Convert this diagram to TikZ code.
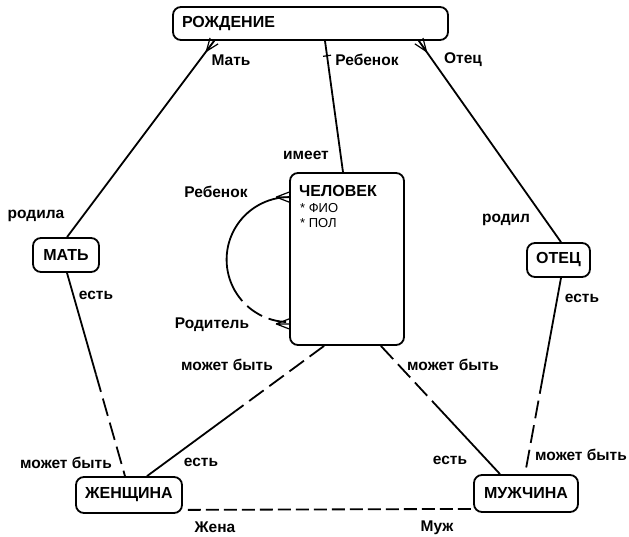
\documentclass[tikz,border=0pt]{standalone}
\usepackage{fontspec}
\setmainfont{Liberation Sans}
\usetikzlibrary{calc}
\tikzset{
  ent/.style={draw, line width=1.8pt, rounded corners=8pt, inner sep=0pt,
    font=\fontsize{16}{18}\selectfont\bfseries},
  lbl/.style={font=\fontsize{15.5}{17}\selectfont\bfseries, inner sep=0pt},
  attr/.style={font=\fontsize{13}{15}\selectfont, inner sep=0pt, anchor=west},
  rel/.style={line width=1.8pt},
  opt/.style={line width=1.8pt, dash pattern=on 18pt off 7pt},
  optshort/.style={line width=1.8pt, dash pattern=on 13pt off 5pt},
  foot/.style={line width=1.2pt},
}
% crow's foot: #1 = end point on the entity, #2 = point further along the line
\newcommand\crowfoot[2]{%
  \draw[foot] ($(#1)!13pt!(#2)$) -- ($(#1)!5pt!90:(#2)$)
              ($(#1)!13pt!(#2)$) -- (#1)
              ($(#1)!13pt!(#2)$) -- ($(#1)!5pt!-90:(#2)$);}
\begin{document}
\begin{tikzpicture}[x=1pt,y=-1pt]
\useasboundingbox (0,0) rectangle (629,536);

% entities
\node[ent, minimum width=275pt, minimum height=33pt, inner xsep=9pt,
      text width=257pt, align=left] (rozh) at (310.5,23.5) {РОЖДЕНИЕ};
\node[ent, minimum width=114pt, minimum height=172pt] (chel) at (347,259) {};
\node[attr, font=\fontsize{16}{18}\selectfont\bfseries] (chelname) at (299,191) {ЧЕЛОВЕК};
\node[attr] (chelfio) at (300,208) {*~ФИО};
\node[attr] (chelpol) at (300,223) {*~ПОЛ};
\node[ent, minimum width=66pt, minimum height=34pt] (mat) at (66,255) {МАТЬ};
\node[ent, minimum width=63pt, minimum height=34pt] (otec) at (558.5,260) {ОТЕЦ};
\node[ent, minimum width=106pt, minimum height=36pt] (zhen) at (129,495) {ЖЕНЩИНА};
\node[ent, minimum width=104pt, minimum height=37pt] (muzh) at (526,493.5) {МУЖЧИНА};

% connection points on the entity borders
\coordinate (rM) at ($(rozh.south west)+(42,0)$);
\coordinate (rO) at ($(rozh.south east)+(-30,0)$);
\coordinate (rR) at ($(rozh.south)+(14.5,0)$);
\coordinate (mT) at ($(mat.north)+(1,0)$);
\coordinate (mB) at ($(mat.south)+(1,0)$);
\coordinate (oT) at ($(otec.north)+(2.5,0)$);
\coordinate (oB) at ($(otec.south)+(2.5,0)$);
\coordinate (cT) at ($(chel.north)+(-4,0)$);
\coordinate (cBL) at ($(chel.south west)+(35,0)$);
\coordinate (cBR) at ($(chel.south east)+(-24,0)$);
\coordinate (loopT) at ($(chel.north west)+(0,25)$);
\coordinate (loopB) at ($(chel.south west)+(0,-22)$);
\coordinate (loopTd) at ($(loopT)+(-20,0)$);
\coordinate (loopBd) at ($(loopB)+(-20,0)$);
\coordinate (zT1) at ($(zhen.north)+(-4,0)$);
\coordinate (zT2) at ($(zhen.north)+(18,0)$);
\coordinate (zR) at ($(zhen.south east)+(0,-4)$);
\coordinate (uT1) at ($(muzh.north)+(-26,0)$);
\coordinate (uT2) at ($(muzh.north)+(-1,0)$);
\coordinate (uL) at ($(muzh.south west)+(0,-4)$);

% РОЖДЕНИЕ relationships
\draw[rel] (mT) -- (rM);
\crowfoot{rM}{mT}
\draw[rel] (oT) -- (rO);
\crowfoot{rO}{oT}
\draw[rel] (cT) -- (rR);
\draw[foot] ($(rR)!15pt!(cT)$) -- ($($(rR)!15pt!(cT)$)!4pt!90:(cT)$)
            ($(rR)!15pt!(cT)$) -- ($($(rR)!15pt!(cT)$)!4pt!-90:(cT)$);

% recursive relationship of ЧЕЛОВЕК (radius in pt: angles are page angles)
\draw[rel] (loopT) arc[start angle=90, end angle=205, radius=62.5pt] coordinate (loopM);
\draw[opt] (loopM) arc[start angle=205, end angle=270, radius=62.5pt];
\crowfoot{loopT}{loopTd}
\crowfoot{loopB}{loopBd}

% categories
\draw[opt] (cBL) -- ($(cBL)!0.5!(zT2)$);
\draw[rel] ($(cBL)!0.5!(zT2)$) -- (zT2);
\draw[opt] (cBR) -- ($(cBR)!0.5!(uT1)$);
\draw[rel] ($(cBR)!0.5!(uT1)$) -- (uT1);
\draw[rel] (mB) -- ($(mB)!0.5!(zT1)$);
\draw[opt] ($(mB)!0.5!(zT1)$) -- (zT1);
\draw[rel] (oB) -- ($(oB)!0.5!(uT2)$);
\draw[opt] ($(oB)!0.5!(uT2)$) -- (uT2);
\draw[optshort, dash phase=13pt] (zR) -- (uL);

% labels
\node[lbl] (l1) at (231,60) {Мать};
\node[lbl] (l2) at (367,60) {Ребенок};
\node[lbl] (l3) at (463,60) {Отец};
\node[lbl] (l4) at (306,155) {имеет};
\node[lbl] (l5) at (216,192) {Ребенок};
\node[lbl] (l6) at (212,325) {Родитель};
\node[lbl] (l7) at (36,216) {родила};
\node[lbl] (l8) at (96,295) {есть};
\node[lbl] (l9) at (506,220) {родил};
\node[lbl] (l10) at (582,298) {есть};
\node[lbl] (l11) at (227,365) {может быть};
\node[lbl] (l12) at (453,365) {может быть};
\node[lbl] (l13) at (66,463) {может быть};
\node[lbl] (l14) at (201,462) {есть};
\node[lbl] (l15) at (215,527) {Жена};
\node[lbl] (l16) at (450,460) {есть};
\node[lbl] (l17) at (581,455) {может быть};
\node[lbl] (l18) at (437,528) {Муж};
\end{tikzpicture}
\end{document}
